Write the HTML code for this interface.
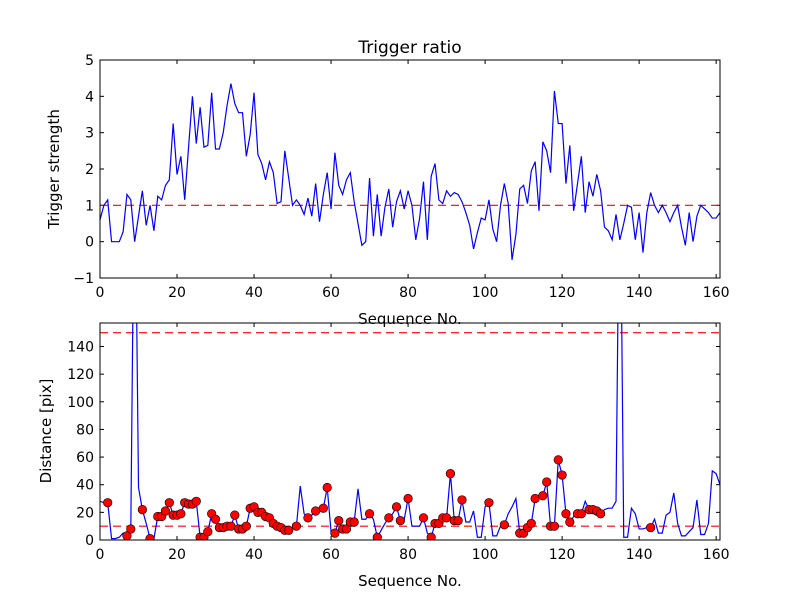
<!DOCTYPE html>
<html><head><meta charset="utf-8"><style>
body{margin:0;background:#fff}
svg{display:block;font-family:"DejaVu Sans","Liberation Sans",sans-serif}
</style></head><body>
<svg id="chart" width="800" height="600" viewBox="0 0 800 600">
<defs>
<clipPath id="c1"><rect x="100" y="60" width="620" height="218"/></clipPath>
<clipPath id="c2"><rect x="100" y="323" width="620" height="217"/></clipPath>
</defs>
<rect x="0" y="0" width="800" height="600" fill="#fff"/>
<text x="410" y="53" font-size="17" text-anchor="middle">Trigger ratio</text>
<g id="top"></g>
<g id="bot"></g>
<text x="410" y="324" font-size="15" text-anchor="middle">Sequence No.</text>
<text x="410" y="586" font-size="15" text-anchor="middle">Sequence No.</text>
<text transform="translate(59,169) rotate(-90)" font-size="15" text-anchor="middle">Trigger strength</text>
<text transform="translate(51,431) rotate(-90)" font-size="15" text-anchor="middle">Distance [pix]</text>
</svg>
<script>
const strength=[0.6,1.0,1.15,0,0,0,0.27,1.3,1.15,0,0.7,1.4,0.45,1.0,0.3,1.25,1.15,1.55,1.7,3.25,1.85,2.35,1.15,2.6,4.0,2.7,3.7,2.6,2.65,4.1,2.55,2.55,3.0,3.75,4.35,3.8,3.55,3.55,2.35,2.95,4.1,2.4,2.15,1.7,2.2,1.9,1.05,1.1,2.5,1.75,1.0,1.15,1.0,0.75,1.2,0.7,1.6,0.55,1.3,1.9,0.9,2.45,1.55,1.3,1.7,1.9,1.1,0.5,-0.1,0,1.75,0.15,1.3,0.15,0.95,1.45,0.4,1.1,1.4,0.9,1.4,1.0,0.05,0.65,1.65,0.05,1.8,2.15,1.15,1.05,1.4,1.25,1.35,1.3,1.1,0.8,0.45,-0.2,0.25,0.65,0.6,1.15,0.35,0,1.0,1.6,1.05,-0.5,0.2,1.45,1.55,1.05,1.95,2.2,0.85,2.75,2.5,1.9,4.15,3.25,3.25,1.6,2.65,0.85,1.6,2.35,0.8,1.65,1.25,1.85,1.4,0.4,0.3,0.05,0.75,0.05,0.5,1.0,0.95,0.05,0.8,-0.3,0.8,1.35,1.0,0.8,1.0,0.8,0.55,0.8,1.0,0.4,-0.1,0.8,0,0.7,1.0,0.9,0.8,0.65,0.65,0.8];
const distance=[28,27,27,1,1,2,5,3,8,300,38,22,12,1,1,17,17,21,27,18,18,19,27,26,26,28,2,2,6,19,15,9,9,10,10,18,8,8,10,23,24,20,20,17,16,12,10,9,7,7,8,10,39,19,16,18,21,22,23,38,6,5,14,8,8,13,13,37,15,15,19,15,2,7,12,16,19,24,14,15,30,10,10,10,16,5,2,12,12,16,16,48,14,14,29,13,13,21,2,2,24,27,3,3,10,11,19,24,30,5,5,9,12,30,31,32,42,10,10,58,47,19,13,17,19,19,28,22,22,21,19,22,23,23,28,300,2,2,23,19,8,8,9,9,15,5,5,18,20,34,12,3,3,6,9,29,4,4,12,50,48,40];
const markerIdx=[2,7,8,11,13,15,16,17,18,19,20,21,22,23,24,25,26,27,28,29,30,31,32,33,34,35,36,37,38,39,40,41,42,43,44,45,46,47,48,49,51,54,56,58,59,61,62,63,64,65,66,70,72,75,77,78,80,84,86,87,88,89,90,91,92,93,94,101,105,109,110,111,112,113,115,116,117,118,119,120,121,122,124,125,127,128,129,130,143];
const xTicks=[0,20,40,60,80,100,120,140,160];
const topTicks=[-1,0,1,2,3,4,5];
const botTicks=[0,20,40,60,80,100,120,140];
const topThreshold=[1];
const botThresholds=[10,150];

const NS='http://www.w3.org/2000/svg';
function mk(tag,attrs,parent){const e=document.createElementNS(NS,tag);for(const k in attrs)e.setAttribute(k,attrs[k]);parent.appendChild(e);return e;}
const X0=100,X1=720,XMAX=161;
function sx(v){return X0+v/XMAX*(X1-X0);}
function panel(g,y0,y1,vmin,vmax,ticks,clip,prefix){
  const sy=v=>y1-(v-vmin)/(vmax-vmin)*(y1-y0);
  // ticks
  xTicks.forEach(t=>{
    const x=sx(t);
    const a=mk('line',{x1:x,x2:x,y1:y1,y2:y1-4,stroke:'#000','stroke-width':1},g);
    
    const b=mk('line',{x1:x,x2:x,y1:y0,y2:y0+4,stroke:'#000','stroke-width':1},g);
    
    const l=mk('text',{x:x,y:y1+19,'font-size':14,'text-anchor':'middle'},g);
    l.textContent=t;
    
  });
  ticks.forEach(t=>{
    const y=sy(t);
    const a=mk('line',{x1:X0,x2:X0+4,y1:y,y2:y,stroke:'#000','stroke-width':1},g);
    
    const b=mk('line',{x1:X1,x2:X1-4,y1:y,y2:y,stroke:'#000','stroke-width':1},g);
    
    const l=mk('text',{x:X0-6,y:y+5,'font-size':14,'text-anchor':'end'},g);
    l.textContent=t<0?'\u2212'+(-t):t;
    
  });
  return sy;
}
const gt=document.getElementById('top'),gb=document.getElementById('bot');
const syT=panel(gt,60,278,-1,5,topTicks,'c1');
const syB=panel(gb,323,540,0,157,botTicks,'c2');

const ct=mk('g',{'clip-path':'url(#c1)'},gt);
topThreshold.forEach(v=>{const l=mk('line',{x1:X0,x2:X1,y1:syT(v),y2:syT(v),stroke:'#f00','stroke-width':1.2,'stroke-dasharray':'8,5'},ct);
});
const p1=mk('polyline',{points:strength.map((v,i)=>sx(i)+','+syT(v)).join(' '),fill:'none',stroke:'#00f','stroke-width':1.2},ct);


const cb=mk('g',{'clip-path':'url(#c2)'},gb);
botThresholds.forEach(v=>{const l=mk('line',{x1:X0,x2:X1,y1:syB(v),y2:syB(v),stroke:'#f00','stroke-width':1.2,'stroke-dasharray':'8,5'},cb);
});
const p2=mk('polyline',{points:distance.map((v,i)=>sx(i)+','+syB(v)).join(' '),fill:'none',stroke:'#00f','stroke-width':1.2},cb);

markerIdx.forEach(i=>{const c=mk('circle',{cx:sx(i),cy:syB(distance[i]),r:4.3,fill:'#f00',stroke:'#000','stroke-width':0.6},cb);
});

[[gt,60,278],[gb,323,540]].forEach(([g,a,b])=>{const r=mk('rect',{x:X0,y:a,width:X1-X0,height:b-a,fill:'none',stroke:'#000','stroke-width':1},g);
});
</script>
</body></html>
